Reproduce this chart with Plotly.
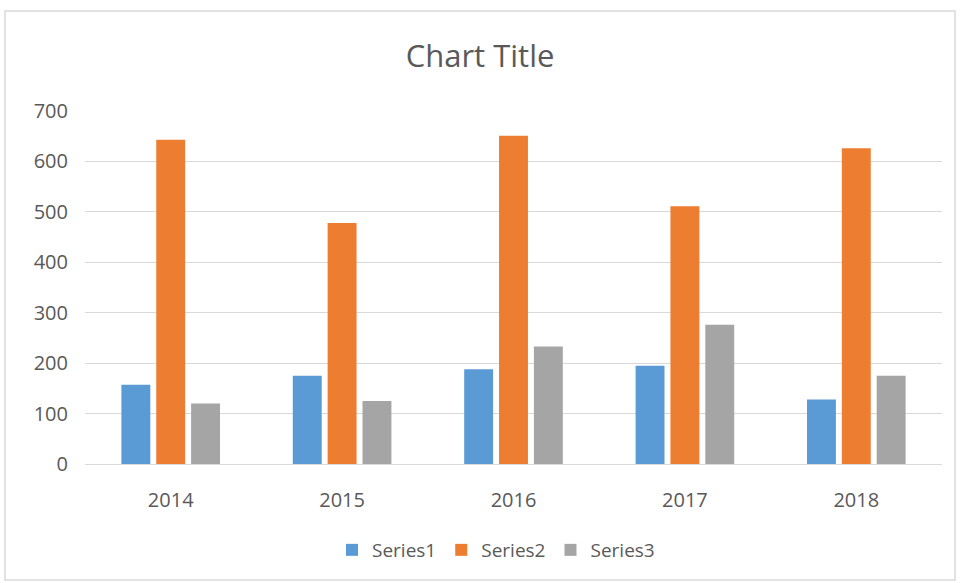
import plotly.graph_objects as go

categories = ["2014", "2015", "2016", "2017", "2018"]
series1 = [157, 175, 188, 195, 128]
series2 = [643, 478, 651, 511, 626]
series3 = [120, 125, 233, 276, 175]
y_ticks = [0, 100, 200, 300, 400, 500, 600, 700]

colors = {"Series1": "#5b9bd5", "Series2": "#ed7d31", "Series3": "#a5a5a5"}
font_family = "Open Sans, Liberation Sans, sans-serif"
text_color = "#595959"

fig = go.Figure()
for name, vals in [("Series1", series1), ("Series2", series2), ("Series3", series3)]:
    fig.add_trace(go.Bar(x=categories, y=vals, name=name,
                         marker=dict(color=colors[name], line=dict(width=0))))

L, R, T, B = 85, 18, 111, 119
W, H = 960, 583
pw, ph = W - L - R, H - T - B

def px_x(x):
    return (x - L) / pw

def px_y(y):
    return (H - B - y) / ph

fig.update_layout(
    width=W, height=H,
    margin=dict(l=L, r=R, t=T, b=B, pad=0),
    paper_bgcolor="white", plot_bgcolor="white",
    barmode="group", bargap=0.39, bargroupgap=0.17,
    title=dict(text="Chart Title", x=0.5, xanchor="center", y=1 - 56 / H, yanchor="middle",
               font=dict(family=font_family, size=31, color=text_color)),
    font=dict(family=font_family, size=19, color=text_color),
    legend=dict(orientation="h", x=px_x(496), xanchor="center", y=px_y(550), yanchor="middle",
                font=dict(size=19, color=text_color), itemwidth=30, traceorder="normal"),
    xaxis=dict(showgrid=False, showline=True, linecolor="#d9d9d9", linewidth=1,
               ticks="", ticklabelstandoff=18, tickfont=dict(size=20, color=text_color)),
    yaxis=dict(range=[0, 700], tickvals=y_ticks, showgrid=True, gridcolor="#d9d9d9",
               gridwidth=1, zeroline=False, showline=False, ticks="",
               ticklabelstandoff=16, tickfont=dict(size=20, color=text_color)),
    shapes=[dict(type="rect", xref="paper", yref="paper",
                 x0=px_x(5), x1=px_x(955), y0=px_y(580), y1=px_y(11),
                 line=dict(color="#d9d9d9", width=1.5), fillcolor="rgba(0,0,0,0)", layer="below")],
)

fig.write_html("out.html", config={"displayModeBar": False},
               post_script="document.body.style.margin='0';document.body.style.padding='0';")
